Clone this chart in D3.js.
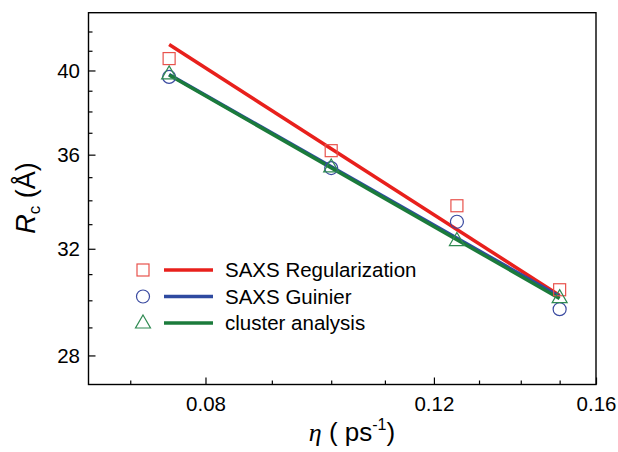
<!DOCTYPE html>
<html>
<head>
<meta charset="utf-8">
<script src="https://cdn.jsdelivr.net/npm/d3@7"></script>
<style>
  body { margin: 0; background: #fff; }
  text { font-family: "Liberation Sans", Arial, sans-serif; fill: #000; }
</style>
</head>
<body>
<div id="chart"></div>
<script>
// measured points
const eta = [0.075, 0.1, 0.125, 0.15];
const saxsReg = [40.6, 36.18, 33.77, 30.4];
const saxsGuinier = [39.68, 35.4, 33.1, 29.67];
const cluster = [39.83, 35.45, 32.33, 30.1];

// fitted lines (end points)
const fitEta = [0.075, 0.15];
const fitReg = [41.32, 30.18];
const fitGuinier = [39.8, 30.14];
const fitCluster = [39.77, 30.07];

const xTicks = [0.07, 0.08, 0.09, 0.1, 0.11, 0.12, 0.13, 0.14, 0.15, 0.16];
const xLabels = [0.08, 0.12, 0.16];
const yTicks = [28, 29, 30, 31, 32, 33, 34, 35, 36, 37, 38, 39, 40, 41, 42];
const yLabels = [28, 32, 36, 40];

const legendNames = ['SAXS Regularization', 'SAXS Guinier', 'cluster analysis'];

const W = 618;
const H = 452;
const margin = { top: 12.7, right: 22, bottom: 67.5, left: 88.5 };
const width = W - margin.left - margin.right;
const height = H - margin.top - margin.bottom;

const series = [
  { name: legendNames[0], pts: saxsReg, fit: fitReg, shape: 'square', mark: '#e8524c', line: '#e8201c' },
  { name: legendNames[1], pts: saxsGuinier, fit: fitGuinier, shape: 'circle', mark: '#3a4aa0', line: '#2e4aa0' },
  { name: legendNames[2], pts: cluster, fit: fitCluster, shape: 'triangle', mark: '#2f8a52', line: '#1b7b3b' },
];

const svg = d3.select('#chart')
  .append('svg')
  .attr('width', W)
  .attr('height', H);

const g = svg.append('g')
  .attr('transform', `translate(${margin.left},${margin.top})`);

const xScale = d3.scaleLog().domain([0.065, 0.16]).range([0, width]);
const yScale = d3.scaleLog().domain([27, 43]).range([height, 0]);

// x axis, ticks inward
const xAxis = d3.axisBottom(xScale)
  .tickValues(xTicks)
  .tickSizeInner(0)
  .tickSizeOuter(0)
  .tickFormat('');
const gx = g.append('g')
  .attr('transform', `translate(0,${height})`)
  .call(xAxis);
gx.select('.domain').remove();
gx.selectAll('.tick line')
  .attr('stroke', '#000')
  .attr('stroke-width', 1.2)
  .attr('y2', (d) => (xLabels.includes(d) ? -7 : -4));
gx.selectAll('.tick')
  .filter((d) => xLabels.includes(d))
  .append('text')
  .attr('y', 26)
  .attr('text-anchor', 'middle')
  .style('font-size', '20.5px')
  .text((d) => d.toFixed(2));

// y axis
const yAxis = d3.axisLeft(yScale)
  .tickValues(yTicks)
  .tickSizeInner(0)
  .tickSizeOuter(0)
  .tickFormat('');
const gy = g.append('g').call(yAxis);
gy.select('.domain').remove();
gy.selectAll('.tick line')
  .attr('stroke', '#000')
  .attr('stroke-width', 1.2)
  .attr('x2', (d) => (yLabels.includes(d) ? 7 : 4));
gy.selectAll('.tick')
  .filter((d) => yLabels.includes(d))
  .append('text')
  .attr('x', -8.5)
  .attr('dy', '0.35em')
  .attr('text-anchor', 'end')
  .style('font-size', '20.5px')
  .text((d) => d);

// frame
g.append('rect')
  .attr('width', width)
  .attr('height', height)
  .attr('fill', 'none')
  .attr('stroke', '#000')
  .attr('stroke-width', 1.4);

// fitted lines
const line = d3.line()
  .x((d) => xScale(d[0]))
  .y((d) => yScale(d[1]));

series.forEach((s) => {
  g.append('path')
    .datum(fitEta.map((x, i) => [x, s.fit[i]]))
    .attr('fill', 'none')
    .attr('stroke', s.line)
    .attr('stroke-width', 3.5)
    .attr('d', line);
});

const drawMarker = (sel, shape, color) => {
  if (shape === 'square') {
    sel.append('rect')
      .attr('x', -6).attr('y', -6)
      .attr('width', 12).attr('height', 12)
      .attr('fill', 'none').attr('stroke', color).attr('stroke-width', 1.2);
  } else if (shape === 'circle') {
    sel.append('circle')
      .attr('r', 6.5)
      .attr('fill', 'none').attr('stroke', color).attr('stroke-width', 1.2);
  } else {
    sel.append('path')
      .attr('d', 'M0,-8L7.5,5L-7.5,5Z')
      .attr('fill', 'none').attr('stroke', color).attr('stroke-width', 1.2);
  }
};

// data markers
series.forEach((s) => {
  eta.forEach((x, i) => {
    const m = g.append('g')
      .attr('transform', `translate(${xScale(x)},${yScale(s.pts[i])})`);
    drawMarker(m, s.shape, s.mark);
  });
});

// legend
const legend = svg.append('g').attr('transform', 'translate(143,270)');
series.forEach((s, i) => {
  const row = legend.append('g').attr('transform', `translate(0,${i * 26.5})`);
  drawMarker(row, s.shape, s.mark);
  row.append('line')
    .attr('x1', 21).attr('x2', 70)
    .attr('stroke', s.line).attr('stroke-width', 3.5);
  row.append('text')
    .attr('x', 82)
    .attr('y', 7)
    .style('font-size', '20.5px')
    .text(s.name);
});

// y title
const yTitle = svg.append('text')
  .attr('transform', 'translate(35,198) rotate(-90)')
  .attr('text-anchor', 'middle')
  .style('font-size', '27px');
yTitle.append('tspan').style('font-style', 'italic').text('R');
yTitle.append('tspan').attr('dy', 5).style('font-size', '17px').text('c');
yTitle.append('tspan').attr('dy', -5).text(' (Å)');

// x title
const xTitle = svg.append('text')
  .attr('x', 352)
  .attr('y', 441)
  .attr('text-anchor', 'middle')
  .style('font-size', '26px');
xTitle.append('tspan')
  .style('font-family', '"Liberation Serif", "DejaVu Serif", serif')
  .style('font-style', 'italic')
  .text('η');
xTitle.append('tspan').text(' ( ps');
xTitle.append('tspan').attr('dy', -11).style('font-size', '16px').text('-1');
xTitle.append('tspan').attr('dy', 11).text(')');
</script>
</body>
</html>
